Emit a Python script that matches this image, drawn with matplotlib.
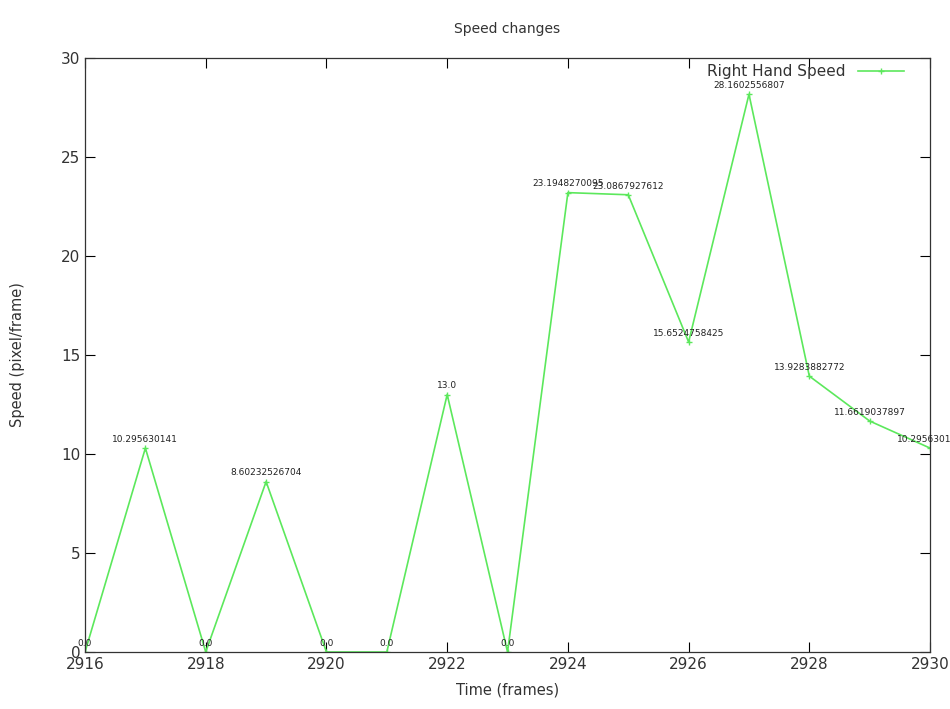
import matplotlib
matplotlib.use("Agg")
import matplotlib.pyplot as plt

frames = [2916, 2917, 2918, 2919, 2920, 2921, 2922, 2923, 2924, 2925, 2926, 2927, 2928, 2929, 2930]
speeds = [0.0, 10.295630141, 0.0, 8.60232526704, 0.0, 0.0, 13.0, 0.0,
          23.1948270095, 23.0867927612, 15.6524758425, 28.1602556807,
          13.9283882772, 11.6619037897, 10.295630141]
labels = ["0.0", "10.295630141", "0.0", "8.60232526704", "0.0", "0.0", "13.0", "0.0",
          "23.1948270095", "23.0867927612", "15.6524758425", "28.1602556807",
          "13.9283882772", "11.6619037897", "10.295630141"]
xticks = [2916, 2918, 2920, 2922, 2924, 2926, 2928, 2930]
yticks = [0, 5, 10, 15, 20, 25, 30]

fig = plt.figure(figsize=(9.5, 7.09), dpi=100)
ax = fig.add_axes([0.0895, 0.0804, 0.8895, 0.838])
green = "#5ce85c"
ax.plot(frames, speeds, color=green, lw=1.2, marker="+", ms=4, mew=1, label="Right Hand Speed")
for x, y, t in zip(frames, speeds, labels):
    ax.annotate(t, (x, y), xytext=(0, 3), textcoords="offset points",
                ha="center", va="bottom", fontsize=6.5, color="#222222")

ax.set_xlim(2916, 2930)
ax.set_ylim(0, 30)
ax.set_xticks(xticks)
ax.set_yticks(yticks)
ax.tick_params(direction="in", top=True, right=True, length=7, labelsize=11, labelcolor="#333333", width=0.8)
for s in ax.spines.values():
    s.set_linewidth(0.9)
    s.set_color("#333333")
ax.set_title("Speed changes", fontsize=10, color="#333333", pad=18)
ax.set_xlabel("Time (frames)", fontsize=10.5, color="#333333", labelpad=8)
ax.set_ylabel("Speed (pixel/frame)", fontsize=10.5, color="#333333", labelpad=26)
leg = ax.legend(loc="upper right", frameon=False, markerfirst=False, fontsize=11,
                bbox_to_anchor=(0.985, 1.012), handlelength=3)
for t in leg.get_texts():
    t.set_color("#333333")
fig.savefig("out.png", dpi=100)
